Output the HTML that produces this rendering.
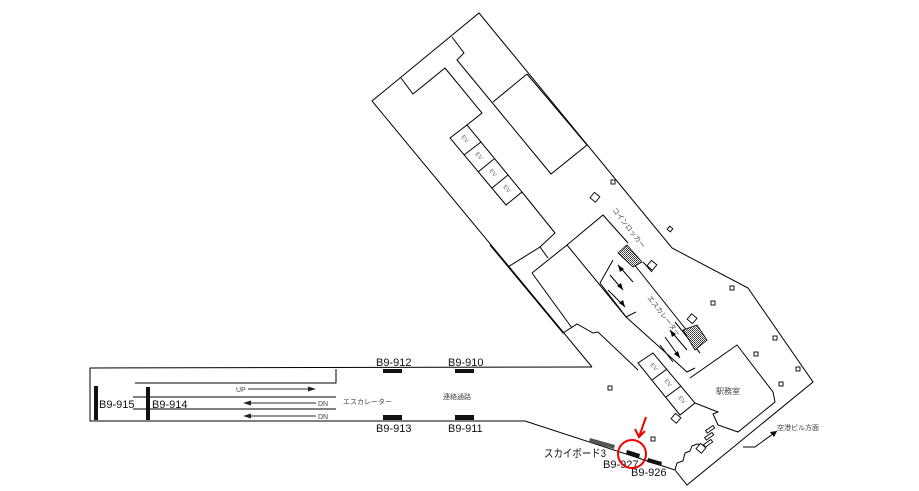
<!DOCTYPE html>
<html><head><meta charset="utf-8"><style>
html,body{margin:0;padding:0;background:#fff;}
svg{display:block;}
text{font-family:"Liberation Sans","Noto Sans CJK JP",sans-serif;}
</style></head><body>
<svg width="919" height="491" viewBox="0 0 919 491" xmlns="http://www.w3.org/2000/svg">
<defs>
<pattern id="h" width="2" height="2" patternUnits="userSpaceOnUse">
<rect width="2" height="2" fill="#fff"/><rect width="1" height="1" fill="#333"/><rect x="1" y="1" width="1" height="1" fill="#555"/>
</pattern>
</defs>
<g fill="none" stroke="#000" stroke-width="1">
<polyline points="592,367 372,101 479,13 672,248 748,288 813,382 687,485 675,470"/>
<polyline points="675,470 677,463 683,461 685,453 690,451 692,446 697,444 703,445"/>
<polyline points="592,367 90,368 90,421 525,421 675,470"/>
<polyline points="135,383 336,383 336,369"/>
<line x1="133" y1="397" x2="336" y2="397"/>
<line x1="133" y1="409" x2="336" y2="409"/>
<polyline points="452,37 464,53 457,60 551,174 587,145 527,74"/>
<line x1="493" y1="102" x2="527" y2="74"/>
<polyline points="401,78 413,94 445,68 482,113 467,125"/>
<polyline points="522,192 555,233 540,247 508,267"/>
<line x1="540" y1="247" x2="548" y2="258"/>
<polygon points="450,138 467,125 522,192 506,205"/>
<line x1="464" y1="155" x2="481" y2="142"/>
<line x1="478" y1="172" x2="494" y2="159"/>
<line x1="492" y1="188" x2="508" y2="175"/>
<polyline points="490,245 563,333 577,324 593,333 598,332 638,370"/>
<polyline points="532,273 567,245 603,215 628,243"/>
<polyline points="532,273 572,328"/>
<polyline points="567,245 626,317 636,312"/>
<line x1="600" y1="283" x2="627" y2="318"/>
<line x1="600" y1="283" x2="613" y2="260"/>
<line x1="633" y1="263" x2="688" y2="332"/>
<polyline points="626,317 655,343 687,372 695,368"/>
<line x1="643" y1="262" x2="652" y2="272"/>
<line x1="618" y1="265" x2="633" y2="282"/>
<line x1="610" y1="275" x2="623" y2="290"/>
<line x1="608" y1="290" x2="625" y2="307"/>
<line x1="670" y1="330" x2="687" y2="350"/>
<line x1="665" y1="337" x2="680" y2="358"/>
<line x1="660" y1="345" x2="673" y2="362"/>
<line x1="675" y1="322" x2="700" y2="353"/>
<polygon points="638,363 653,353 695,403 680,415"/>
<line x1="652" y1="380" x2="667" y2="369"/>
<line x1="666" y1="397" x2="681" y2="386"/>
<polyline points="690,378 720,357 737,345 773,392 775,402 738,432 718,425 713,414 718,412 695,403"/>
<polyline points="743,447 755,447 777,431"/>
</g>
<polygon points="777,431 770,432 774,437" fill="#000"/>
<polygon points="627,245 642,262 633,267 618,253" fill="url(#h)" stroke="#000" stroke-width="0.8"/>
<polygon points="683,330 697,325 707,340 695,350" fill="url(#h)" stroke="#000" stroke-width="0.8"/>
<g fill="#000">
<polygon points="618,265 620,272 624,269"/>
<polygon points="623,290 617,286 621,283"/>
<polygon points="625,307 619,303 623,300"/>
<polygon points="670,330 672,337 676,334"/>
<polygon points="680,358 674,354 678,351"/>
</g>
<g fill="#fff" stroke="#000" stroke-width="0.9">
<rect x="668" y="227" width="4" height="4" transform="rotate(40 670 229)"/>
<rect x="648" y="262" width="7" height="7" transform="rotate(40 652 266)"/>
<rect x="730" y="286" width="4" height="4"/>
<rect x="711" y="301" width="4" height="4"/>
<rect x="689" y="315" width="7" height="7" transform="rotate(40 692 318)"/>
<rect x="773" y="336" width="4" height="4"/>
<rect x="754" y="352" width="4" height="4"/>
<rect x="796" y="367" width="4" height="4"/>
<rect x="779" y="382" width="4" height="4"/>
<rect x="608" y="386" width="4" height="4"/>
<rect x="651" y="437" width="4" height="4"/>
<rect x="672" y="415" width="7" height="7" transform="rotate(40 676 419)"/>
<rect x="697" y="445" width="7" height="7" transform="rotate(40 701 449)"/>
<rect x="611" y="180" width="4" height="4"/>
<rect x="591" y="194" width="7" height="7" transform="rotate(40 595 198)"/>
<rect x="706" y="428" width="9" height="3" transform="rotate(-35 710 430)"/>
<rect x="705" y="435" width="9" height="3" transform="rotate(-35 709 437)"/>
<rect x="704" y="442" width="9" height="3" transform="rotate(-35 708 444)"/>
</g>
<g stroke="#555" stroke-width="1.3">
<line x1="248" y1="389" x2="312" y2="389"/>
<line x1="250" y1="403" x2="316" y2="403"/>
<line x1="250" y1="416" x2="316" y2="416"/>
</g>
<g fill="#222">
<polygon points="316,389 308,386.5 308,391.5"/>
<polygon points="243,403 251,400.5 251,405.5"/>
<polygon points="243,416 251,413.5 251,418.5"/>
</g>
<g font-size="7" fill="#444">
<text x="236" y="392">UP</text>
<text x="318" y="406">DN</text>
<text x="318" y="419">DN</text>
<text x="343" y="404">エスカレーター</text>
<text x="443" y="399">連絡通路</text>
<text x="716" y="394" font-size="8">駅務室</text>
<text x="777" y="430">空港ビル方面</text>
<text transform="translate(612,210) rotate(52)">コインロッカー</text>
<text transform="translate(647,298) rotate(52)">エスカレーター</text>
</g>
<g font-size="6" fill="#666">
<text transform="translate(461,137) rotate(50)">EV</text>
<text transform="translate(475,154) rotate(50)">EV</text>
<text transform="translate(489,171) rotate(50)">EV</text>
<text transform="translate(503,187) rotate(50)">EV</text>
<text transform="translate(650,365) rotate(50)">EV</text>
<text transform="translate(664,381) rotate(50)">EV</text>
<text transform="translate(678,398) rotate(50)">EV</text>
</g>
<g fill="#111">
<rect x="94" y="386" width="4" height="34"/>
<rect x="146" y="387" width="4" height="33"/>
<rect x="383" y="369" width="19" height="4"/>
<rect x="455" y="369" width="19" height="4"/>
<rect x="383" y="415" width="19" height="5"/>
<rect x="455" y="415" width="19" height="5"/>
<polygon points="627,450 640,454 639,458 626,454"/>
<polygon points="648,458 662,462 661,466 647,462"/>
</g>
<polygon points="590,438 615,445 614,449 589,442" fill="#555"/>
<g font-size="11" fill="#111">
<text x="99" y="408">B9-915</text>
<text x="152" y="408">B9-914</text>
<text x="376" y="366">B9-912</text>
<text x="448" y="366">B9-910</text>
<text x="376" y="432">B9-913</text>
<text x="448" y="432">B9-911</text>
<text x="603" y="468">B9-927</text>
<text x="631" y="476">B9-926</text>
<text x="544" y="457" font-size="11" textLength="62" lengthAdjust="spacingAndGlyphs">スカイボード3</text>
</g>
<circle cx="632" cy="454" r="14" fill="none" stroke="#e00" stroke-width="2"/>
<g stroke="#e00" stroke-width="2" fill="none">
<line x1="646" y1="417" x2="639" y2="437"/>
<polyline points="635,429 639,437 645,431"/>
</g>
</svg>
</body></html>
